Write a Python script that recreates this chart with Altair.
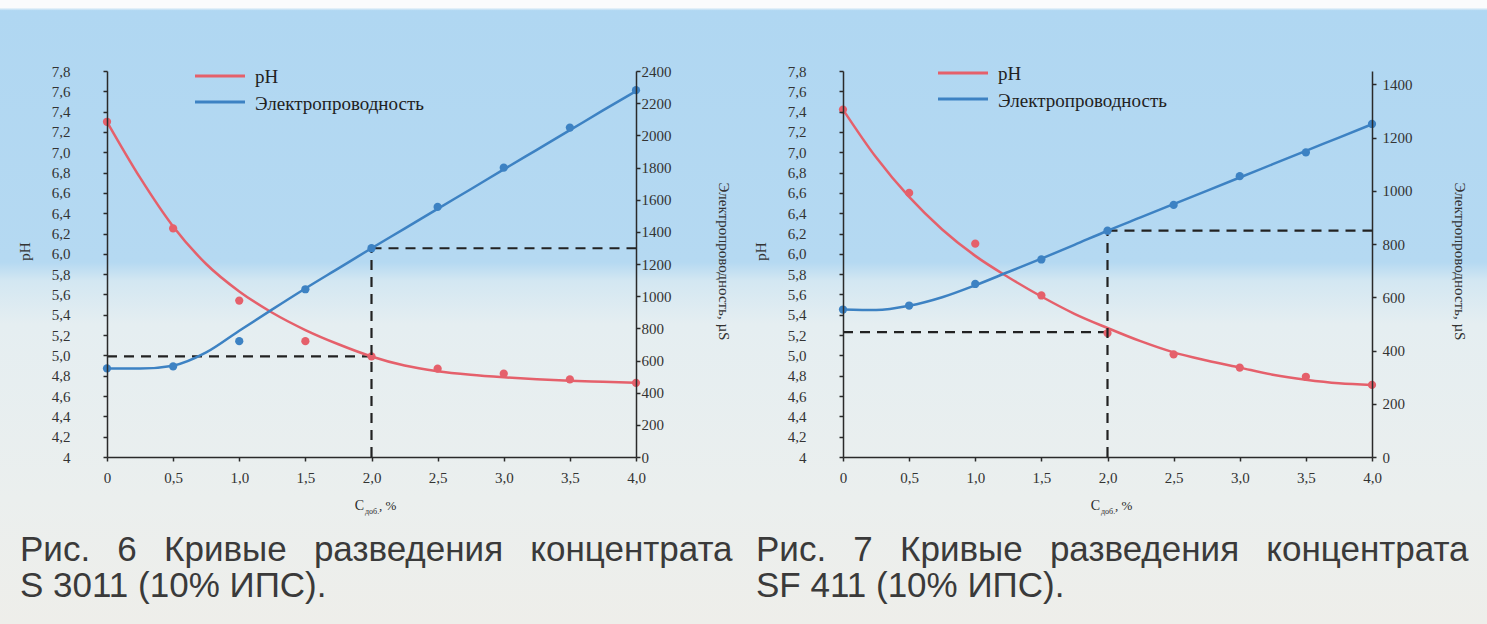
import altair as alt
import pandas as pd

# ---------------- data ----------------
x_pts = [0.0, 0.5, 1.0, 1.5, 2.0, 2.5, 3.0, 3.5, 4.0]
ph1_pts = [7.30, 6.25, 5.54, 5.14, 4.99, 4.87, 4.82, 4.765, 4.73]
cond1_pts = [551, 563, 720, 1043, 1298, 1555, 1799, 2048, 2281]
ph2_pts = [7.42, 6.60, 6.10, 5.59, 5.22, 5.01, 4.88, 4.79, 4.71]
cond2_pts = [554, 569, 650, 742, 850, 947, 1055, 1144, 1251]

x_curve = [0.0, 0.25, 0.5, 0.75, 1.0, 1.25, 1.5, 1.75, 2.0, 2.25, 2.5, 2.75, 3.0, 3.25, 3.5, 3.75, 4.0]
ph1_curve = [7.30, 6.75, 6.27, 5.90, 5.63, 5.42, 5.25, 5.11, 4.99, 4.90, 4.845, 4.81, 4.785, 4.765, 4.75, 4.74, 4.73]
cond1_curve = [551, 550, 568, 650, 785, 918, 1048, 1173, 1298, 1420, 1543, 1665, 1788, 1910, 2032, 2155, 2275]
ph2_curve = [7.42, 6.95, 6.56, 6.24, 5.98, 5.77, 5.58, 5.41, 5.27, 5.14, 5.03, 4.95, 4.88, 4.81, 4.76, 4.725, 4.71]
cond2_curve = [554, 552, 568, 600, 645, 695, 745, 797, 850, 900, 950, 1000, 1050, 1100, 1150, 1200, 1250]

c_mark = 2.0
ph_mark1, cond_mark1 = 4.99, 1298
ph_mark2, cond_mark2 = 5.23, 850

x_ticks = [0.0, 0.5, 1.0, 1.5, 2.0, 2.5, 3.0, 3.5, 4.0]
ph_ticks = [4.0, 4.2, 4.4, 4.6, 4.8, 5.0, 5.2, 5.4, 5.6, 5.8, 6.0, 6.2, 6.4, 6.6, 6.8, 7.0, 7.2, 7.4, 7.6, 7.8]
cond1_ticks = [0, 200, 400, 600, 800, 1000, 1200, 1400, 1600, 1800, 2000, 2200, 2400]
cond2_ticks = [0, 200, 400, 600, 800, 1000, 1200, 1400]

series = ["pH", "Электропроводность"]
caption1 = ["Рис. \u20026 \u2002Кривые \u2002разведения \u2002концентрата", "S 3011 (10% ИПС)."]
caption2 = ["Рис. \u20027 \u2002Кривые \u2002разведения \u2002концентрата", "SF 411 (10% ИПС)."]
y_title_left = "pH"
y_title_right = "Электропроводность, µS"

# ---------------- style ----------------
RED = "#e5606b"
BLUE = "#3d82c3"
INK = "#2a2a2a"
SERIF = "Liberation Serif"
SANS = "Liberation Sans"
W, H = 529, 386

one = pd.DataFrame({"k": [0]})

bg_gradient = alt.LinearGradient(
    gradient="linear",
    x1=0, x2=0, y1=0, y2=1,
    stops=[
        alt.GradientStop(color="#fafbfc", offset=0),
        alt.GradientStop(color="#fafbfc", offset=0.012),
        alt.GradientStop(color="#b0d7f2", offset=0.017),
        alt.GradientStop(color="#b5d9f2", offset=0.42),
        alt.GradientStop(color="#d3e7f2", offset=0.45),
        alt.GradientStop(color="#e5eef1", offset=0.52),
        alt.GradientStop(color="#ebefee", offset=0.80),
        alt.GradientStop(color="#eeeeea", offset=1.0),
    ],
)


def txt(s, x, y, size, font=SERIF, color=INK, align="left", baseline="alphabetic"):
    return alt.Chart(one).mark_text(
        text=s, font=font, fontSize=size, color=color, align=align, baseline=baseline
    ).encode(x=alt.value(x), y=alt.value(y))


def key_line(color, x1, x2, y):
    return alt.Chart(one).mark_rule(color=color, strokeWidth=3).encode(
        x=alt.value(x1), x2=alt.value(x2), y=alt.value(y)
    )


def panel(ph_pts, cond_pts, ph_curve, cond_curve, ph_mark, cond_mark,
          cond_max, cond_ticks, caption, bg_x1, bg_x2, leg_x, leg_y, rlab_pad):
    pts = pd.DataFrame({"x": x_pts, "ph": ph_pts, "cond": cond_pts})
    cur_ph = pd.DataFrame({"x": x_curve, "ph": ph_curve})
    cur_c = pd.DataFrame({"x": x_curve, "cond": cond_curve})
    dash_ph = pd.DataFrame({"x": [0.0], "x2": [c_mark], "y": [ph_mark]})
    dash_c = pd.DataFrame({"x": [c_mark, c_mark], "x2": [c_mark, 4.0],
                           "y": [0, cond_mark], "y2": [cond_mark, cond_mark]})

    x_axis = alt.Axis(
        values=x_ticks, title=None, grid=False, zindex=1,
        labelExpr="datum.value == 0 ? '0' : replace(format(datum.value, '.1f'), '.', ',')",
        labelFont=SERIF, labelFontSize=15, labelColor="#333", labelPadding=9,
        domainColor=INK, domainWidth=1.5, tickColor=INK, tickWidth=1.5, tickSize=4,
        labelFlush=False,
    )
    x_enc = alt.X("x:Q", scale=alt.Scale(domain=[0, 4], nice=False), axis=x_axis)

    ph_axis = alt.Axis(
        orient="left", values=ph_ticks, grid=False, zindex=1,
        labelExpr="datum.value == 4 ? '4' : replace(format(datum.value, '.1f'), '.', ',')",
        labelFont=SERIF, labelFontSize=15, labelColor="#333", labelPadding=33,
        domainColor=INK, domainWidth=1.5, tickColor=INK, tickWidth=1.5, tickSize=4,
        title=y_title_left, titleFont=SERIF, titleFontSize=15, titleFontWeight="normal",
        titleColor="#333", titleX=-83, titleY=180, titleAngle=270, titleBaseline="middle",
        titleAlign="center", labelFlush=False,
    )
    ph_scale = alt.Scale(domain=[4, 7.8], nice=False, zero=False)

    c_axis = alt.Axis(
        orient="right", values=cond_ticks, grid=False, zindex=1, format="d",
        labelFont=SERIF, labelFontSize=15, labelColor="#333", labelPadding=rlab_pad,
        domainColor=INK, domainWidth=1.5, tickColor=INK, tickWidth=1.5, tickSize=4,
        title=y_title_right, titleFont=SERIF, titleFontSize=15, titleFontWeight="normal",
        titleColor="#333", titleX=87, titleY=190, titleAngle=90, titleBaseline="middle",
        titleAlign="center", labelFlush=False,
    )
    c_scale = alt.Scale(domain=[0, cond_max], nice=False)

    bg = alt.Chart(one).mark_rect(color=bg_gradient, strokeWidth=0).encode(
        x=alt.value(bg_x1), x2=alt.value(bg_x2), y=alt.value(-71), y2=alt.value(553)
    )

    ph_layer = alt.layer(
        alt.Chart(dash_ph).mark_rule(color="#222", strokeDash=[10, 7], strokeWidth=2.2).encode(
            x=x_enc, x2="x2:Q", y=alt.Y("y:Q", scale=ph_scale, axis=ph_axis)
        ),
        alt.Chart(cur_ph).mark_line(strokeWidth=2.5, interpolate="monotone", color=RED).encode(
            x=x_enc, y=alt.Y("ph:Q", scale=ph_scale, axis=ph_axis),
        ),
        alt.Chart(pts).mark_circle(size=68, opacity=1, color=RED).encode(
            x=x_enc, y=alt.Y("ph:Q", scale=ph_scale, axis=ph_axis)
        ),
    )

    c_layer = alt.layer(
        alt.Chart(dash_c).mark_rule(color="#222", strokeDash=[10, 7], strokeWidth=2.2).encode(
            x=x_enc, x2="x2:Q", y=alt.Y("y:Q", scale=c_scale, axis=c_axis), y2="y2:Q"
        ),
        alt.Chart(cur_c).mark_line(strokeWidth=2.5, interpolate="monotone", color=BLUE).encode(
            x=x_enc, y=alt.Y("cond:Q", scale=c_scale, axis=c_axis),
        ),
        alt.Chart(pts).mark_circle(size=68, opacity=1, color=BLUE).encode(
            x=x_enc, y=alt.Y("cond:Q", scale=c_scale, axis=c_axis)
        ),
    )

    legend = [
        key_line(RED, leg_x, leg_x + 50, leg_y),
        txt(series[0], leg_x + 60, leg_y + 1, 19, baseline="middle", color="#222"),
        key_line(BLUE, leg_x, leg_x + 50, leg_y + 26),
        txt(series[1], leg_x + 60, leg_y + 28, 19, baseline="middle", color="#222"),
    ]

    texts = [
        txt("C", 257, 439, 14, align="right"),
        txt("доб.", 258, 443, 8),
        txt(", %", 272, 439, 13),
        txt(caption[0], -87, 490, 35, font=SANS, color="#3a3a3a"),
        txt(caption[1], -87, 526, 35, font=SANS, color="#3a3a3a"),
    ]

    return alt.layer(bg, ph_layer, c_layer, *legend, *texts).resolve_scale(
        y="independent"
    ).properties(width=W, height=H)


p1 = panel(ph1_pts, cond1_pts, ph1_curve, cond1_curve, ph_mark1, cond_mark1,
           2400, cond1_ticks, caption1, -107, 633, 88, 5, 1)
p2 = panel(ph2_pts, cond2_pts, ph2_curve, cond2_curve, ph_mark2, cond_mark2,
           1450, cond2_ticks, caption2, -103, 644, 95, 2, 6)

chart = alt.hconcat(p1, p2, spacing=0).properties(
    padding=0, background="#eeeeea"
).configure_view(strokeWidth=0)

chart.save("out.html", embed_options={"renderer": "svg", "actions": False})
